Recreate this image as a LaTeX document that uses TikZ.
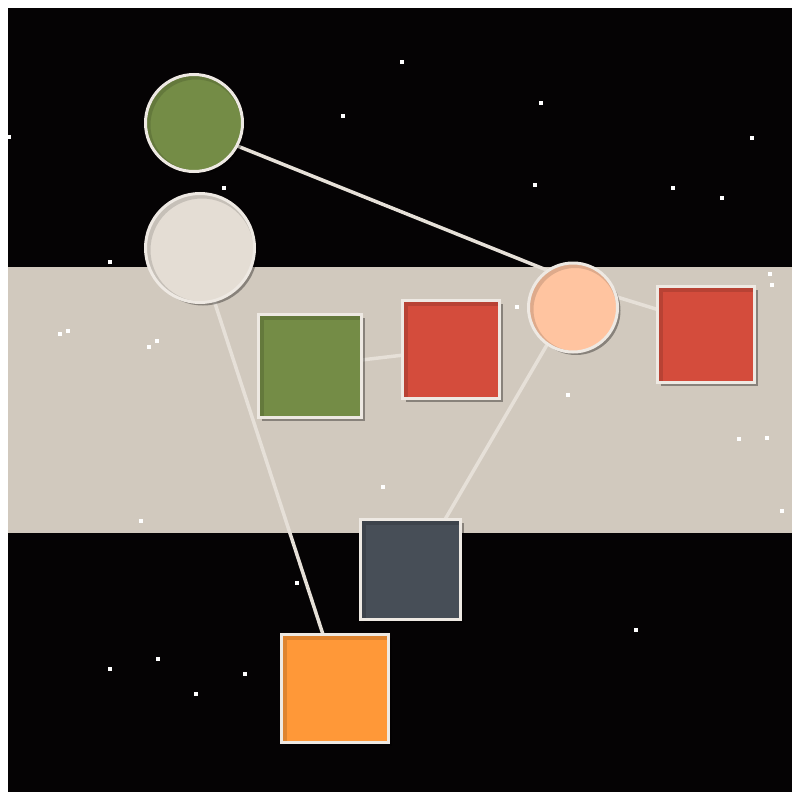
\documentclass[tikz,border=0pt]{standalone}
\usetikzlibrary{shadows}
\pgfdeclarelayer{bg}
\pgfdeclarelayer{edges}
\pgfsetlayers{bg,edges,main}
\definecolor{bgblack}{HTML}{050304}
\definecolor{band}{HTML}{D1C9BE}
\definecolor{rim}{HTML}{EEE9E3}
\definecolor{olive}{HTML}{748C46}
\definecolor{cream}{HTML}{E4DDD4}
\definecolor{peach}{HTML}{FFC4A0}
\definecolor{brick}{HTML}{D44C3C}
\definecolor{slate}{HTML}{474E57}
\definecolor{tangerine}{HTML}{FF9838}
\definecolor{linkc}{HTML}{E6E0D8}
\tikzset{
  x=1pt, y=-1pt,
  nodebase/.style={draw=rim, line width=3pt, inner sep=0pt, outer sep=0pt,
    drop shadow={shadow xshift=3pt, shadow yshift=-3pt, opacity=0.35, fill=black}},
  disc/.style={nodebase, circle, minimum size=#1,
    path picture={\draw[black, opacity=0.13, line width=6pt]
      ([xshift=2pt,yshift=-2pt]path picture bounding box.center) circle[radius=#1/2];}},
  box/.style 2 args={nodebase, rectangle, minimum width=#1, minimum height=#2,
    path picture={\draw[black, opacity=0.13, line width=6pt]
      ([xshift=2pt,yshift=-2pt]path picture bounding box.north west) rectangle
      ([xshift=2pt,yshift=-2pt]path picture bounding box.south east);}},
  link/.style={draw=linkc, line width=3.5pt},
  star/.style={fill=white, inner sep=0pt, minimum size=4pt, rectangle, draw=none}
}
\begin{document}
\begin{tikzpicture}
\useasboundingbox (0,0) rectangle (800,800);
\begin{pgfonlayer}{bg}
\fill[white] (0,0) rectangle (800,800);
\fill[bgblack] (8,8) rectangle (792,792);
\fill[band] (8,267) rectangle (792,533);
\end{pgfonlayer}
% stars
\foreach \p [count=\i] in {(402,62),(343,116),(541,103),(535,185),(752,138),(673,188),(722,198),(770,274),(772,285),(739,439),(767,438),(782,511),(110,669),(158,659),(196,694),(245,674),(9,137),(110,262),(60,334),(68,331),(149,347),(157,341),(141,521),(224,188),(517,307),(568,395),(383,487),(297,583),(636,630)}
  \node[star] (s\i) at \p {};
% nodes
\node[disc=97pt, fill=olive] (g) at (194,123) {};
\node[disc=109pt, fill=cream] (c) at (200,248) {};
\node[disc=89pt, fill=peach] (p) at (573,307.5) {};
\node[box={103pt}{103pt}, fill=olive] (gs) at (310,366) {};
\node[box={97pt}{98pt}, fill=brick] (r1) at (451,349.5) {};
\node[box={97pt}{96pt}, fill=brick] (r2) at (706,334.5) {};
\node[box={100pt}{100pt}, fill=slate] (d) at (410.5,569.5) {};
\node[box={107pt}{108pt}, fill=tangerine] (o) at (335,688.5) {};
% links behind nodes
\begin{pgfonlayer}{edges}
\draw[link] (g.-28) -- (p.124);
\draw[link] (c.-75) -- ([xshift=-12pt]o.north);
\draw[link] (gs) -- (r1);
\draw[link] (p.14) -- ([yshift=25pt]r2.west);
\draw[link] (p.-125) -- ([xshift=34.5pt]d.north);
\end{pgfonlayer}
\end{tikzpicture}
\end{document}
